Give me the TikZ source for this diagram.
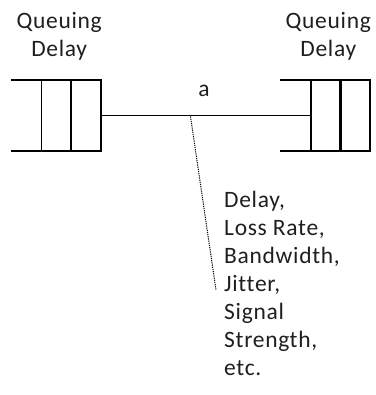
\documentclass[tikz,border=0pt]{standalone}
\usepackage{fontspec}
\setmainfont[LetterSpace=3,Ligatures=NoCommon]{Carlito}
\begin{document}
\begin{tikzpicture}[x=1pt,y=-1pt,
  qline/.style={line width=1.8pt,black},
  cell/.style={draw,line width=1.8pt,minimum width=30pt,minimum height=71pt,inner sep=0pt,outer sep=0pt},
  lbl/.style={font=\fontsize{23.5}{28}\selectfont,text=black!88,inner sep=0pt,align=center},
  dotline/.style={line width=1pt,dash pattern=on 1.2pt off 1pt,black}]
\useasboundingbox (0,0) rectangle (375,395);
% left queue
\node[cell] (lq1) at (56.5,115.5) {};
\node[cell] (lq2) at (86.3,115.5) {};
\draw[qline] (11,80) -- (lq1.north west);
\draw[qline] (11,151) -- (lq1.south west);
% right queue
\node[cell] (rq1) at (325.7,115.5) {};
\node[cell] (rq2) at (355.3,115.5) {};
\draw[qline] (280,80) -- (rq1.north west);
\draw[qline] (280,151) -- (rq1.south west);
% link
\draw[qline] (lq2.east) -- (rq1.west);
\node[lbl,anchor=base] (a) at (204,96.7) {a};
% labels
\node[lbl,anchor=base] (ql1) at (59.2,28.7) {Queuing};
\node[lbl,anchor=base] (ql2) at (59.2,56.7) {Delay};
\node[lbl,anchor=base] (qr1) at (328.3,28.7) {Queuing};
\node[lbl,anchor=base] (qr2) at (328.3,56.7) {Delay};
% parameters
\coordinate (tap) at (190.5,116.5);
\coordinate (tapend) at (216,290);
\draw[dotline] (tap) -- (tapend);
\node[lbl,align=left,anchor=base west] (params) at (224,375.3) {Delay,\\Loss Rate,\\Bandwidth,\\Jitter,\\Signal\\Strength,\\etc.};
\end{tikzpicture}
\end{document}
